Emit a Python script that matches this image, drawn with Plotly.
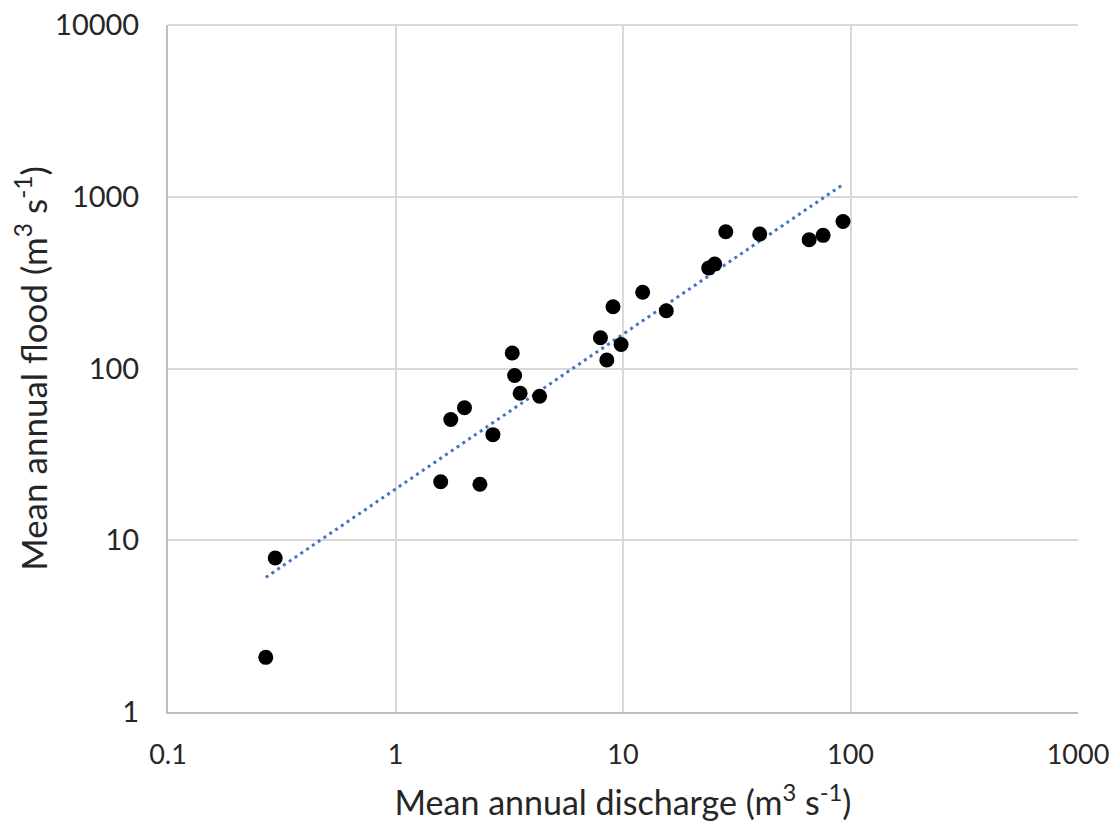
import numpy as np
import plotly.graph_objects as go

# Mean annual discharge (m3/s) and mean annual flood (m3/s)
discharge = [0.269, 0.296, 1.58, 2.35, 1.75, 2.01, 2.68, 3.26, 3.34, 3.53, 4.30,
             7.96, 8.49, 9.04, 9.81, 12.2, 15.5, 23.8, 25.3, 28.3, 39.9, 65.8, 75.8, 92.7]
flood = [2.08, 7.89, 21.9, 21.2, 50.5, 59.1, 41.2, 123, 91.1, 71.8, 69.0,
         151, 112, 229, 138, 278, 217, 385, 406, 626, 607, 562, 596, 718]

x_ticks = [0.1, 1, 10, 100, 1000]
x_ticklabels = ["0.1", "1", "10", "100", "1000"]
y_ticks = [1, 10, 100, 1000, 10000]
y_ticklabels = ["1", "10", "100", "1000", "10000"]

# Power trendline (least squares in log space, as the spreadsheet does)
b, loga = np.polyfit(np.log10(discharge), np.log10(flood), 1)
trend_x = np.array([min(discharge), max(discharge)])
trend_y = 10 ** (loga + b * np.log10(trend_x))

FONT = "Lato"

fig = go.Figure()
fig.add_trace(go.Scatter(
    x=trend_x, y=trend_y, mode="lines",
    line=dict(color="#4472C4", width=3, dash="3px,4px"),
    showlegend=False, hoverinfo="skip"))
fig.add_trace(go.Scatter(
    x=discharge, y=flood, mode="markers",
    marker=dict(color="black", size=15, line=dict(width=0)),
    showlegend=False))

# top gridline at the upper edge of the plot area
fig.add_shape(type="line", xref="paper", yref="paper", x0=0, x1=1, y0=1, y1=1,
              line=dict(color="#d9d9d9", width=2), layer="below")

fig.update_layout(
    width=1119, height=821,
    margin=dict(l=160, r=49, t=17, b=117),
    paper_bgcolor="white", plot_bgcolor="white",
    font=dict(family=FONT, color="#262626"),
    xaxis=dict(
        type="log", range=[-1, 3],
        tickvals=x_ticks, ticktext=x_ticklabels,
        tickfont=dict(family=FONT, size=27, color="#262626"),
        showgrid=True, gridcolor="#d9d9d9", gridwidth=2,
        showline=True, linecolor="#bfbfbf", linewidth=2,
        zeroline=False, ticks="", ticklabelstandoff=18,
        ticklabeloverflow="allow",
        title=dict(text="Mean annual discharge (m<sup>3</sup> s<sup>-1</sup>)",
                   font=dict(family=FONT, size=34, color="#262626"), standoff=22),
        automargin=False, mirror=False,
    ),
    yaxis=dict(
        type="log", range=[0, 4],
        tickvals=y_ticks, ticktext=y_ticklabels,
        tickfont=dict(family=FONT, size=29, color="#262626"),
        showgrid=True, gridcolor="#d9d9d9", gridwidth=2,
        showline=True, linecolor="#bfbfbf", linewidth=2,
        zeroline=False, ticks="", ticklabelstandoff=21,
        ticklabeloverflow="allow",
        title=dict(text="Mean annual flood (m<sup>3</sup> s<sup>-1</sup>)",
                   font=dict(family=FONT, size=35, color="#262626"), standoff=17),
        automargin=False,
    ),
)

fig.write_html("out.html")
